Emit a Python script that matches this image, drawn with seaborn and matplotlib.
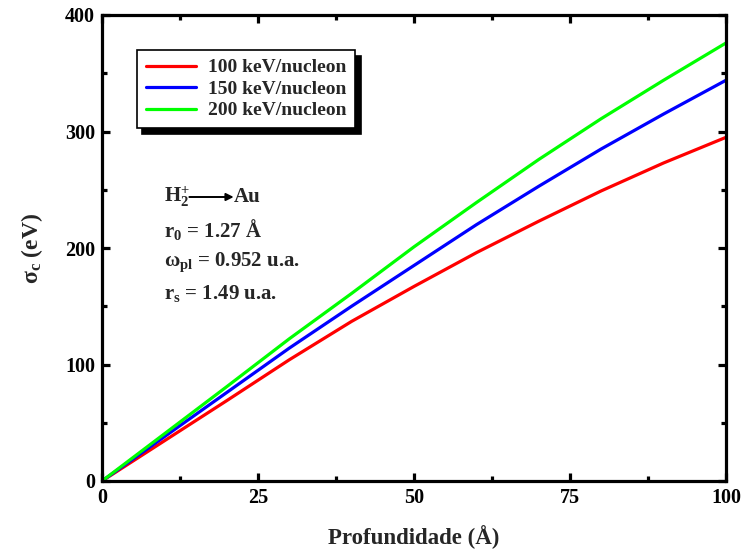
import numpy as np
import pandas as pd
import matplotlib
matplotlib.use("Agg")
import matplotlib.pyplot as plt
import seaborn as sns
from matplotlib.ticker import MultipleLocator

depth = [0, 10, 20, 30, 40, 50, 60, 70, 80, 90, 100]
sigma_100 = [0, 34.5, 69, 104, 137, 167, 196, 223, 249, 273, 295]
sigma_150 = [0, 38, 76, 114, 150, 185, 220, 253, 285, 315, 344]
sigma_200 = [0, 40.5, 81, 122, 161, 201, 239, 276, 311, 344, 376]
labels = ["100 keV/nucleon", "150 keV/nucleon", "200 keV/nucleon"]
colors = ["#ff0000", "#0000ff", "#00ff00"]

df = pd.concat([
    pd.DataFrame({"x": depth, "y": s, "serie": lab})
    for s, lab in zip([sigma_100, sigma_150, sigma_200], labels)
])

sns.set_theme(style="ticks")
plt.rcParams["font.family"] = ["Liberation Serif", "DejaVu Serif"]
plt.rcParams["font.weight"] = "bold"
plt.rcParams["mathtext.fontset"] = "custom"
plt.rcParams["mathtext.rm"] = "Liberation Serif:bold"
plt.rcParams["mathtext.bf"] = "Liberation Serif:bold"
plt.rcParams["mathtext.it"] = "Liberation Serif:bold"

fig = plt.figure(figsize=(7.44, 5.54), dpi=100)
ax = fig.add_axes([102/744, 1-481/554, 624/744, 466/554])

sns.lineplot(data=df, x="x", y="y", hue="serie", palette=colors,
             linewidth=2.3, ax=ax, legend=True)

ax.set_xlim(0, 100)
ax.set_ylim(0, 400)
ax.xaxis.set_major_locator(MultipleLocator(25))
ax.xaxis.set_minor_locator(MultipleLocator(12.5))
ax.yaxis.set_major_locator(MultipleLocator(100))
ax.yaxis.set_minor_locator(MultipleLocator(50))
for s in ax.spines.values():
    s.set_linewidth(2.3)
    s.set_color("black")
ax.tick_params(which="both", direction="in", top=True, right=True,
               width=2.3, colors="black", labelsize=14.5, pad=5)
ax.tick_params(which="major", length=6)
ax.tick_params(which="minor", length=3.5)
for t in ax.get_xticklabels() + ax.get_yticklabels():
    t.set_fontweight("bold")

ax.set_xlabel("Profundidade (Å)", fontsize=16.5, fontweight="bold", labelpad=12)
ax.set_ylabel(r"σ$_\mathregular{c}$ (eV)", fontsize=17, fontweight="bold", labelpad=14)

h, l = ax.get_legend_handles_labels()
leg = ax.legend(h, l, loc="upper left", bbox_to_anchor=(0.056, 0.925),
                borderaxespad=0, frameon=True, fancybox=False,
                shadow={"ox": 4, "oy": -4, "color": "black", "alpha": 1},
                prop={"family": "Liberation Serif", "weight": "bold", "size": 14},
                handlelength=2.6, labelspacing=0.2, borderpad=0.45,
                handletextpad=0.6)
leg.get_frame().set_edgecolor("black")
leg.get_frame().set_linewidth(1.2)
for line in leg.get_lines():
    line.set_linewidth(2.3)

tk = dict(transform=ax.transAxes, fontsize=15, fontweight="bold", va="center", ha="left")
yh = (481-197)/466
ax.text(0.100, yh, r"H$_\mathregular{2}^\mathregular{+}$", **tk)
ax.annotate("", xy=(0.211, yh), xytext=(0.140, yh),
            xycoords="axes fraction",
            arrowprops=dict(arrowstyle="-|>", color="black", lw=1.4,
                            mutation_scale=11, shrinkA=0, shrinkB=0))
ax.text(0.211, yh, "Au", **tk)
ax.text(0.100, (481-229)/466, r"r$_\mathregular{0}$ = 1.27 Å", **tk)
ax.text(0.100, (481-262)/466, r"ω$_\mathregular{pl}$ = 0.952 u.a.", **tk)
ax.text(0.100, (481-294)/466, r"r$_\mathregular{s}$ = 1.49 u.a.", **tk)

fig.savefig("out.png", dpi=100)
